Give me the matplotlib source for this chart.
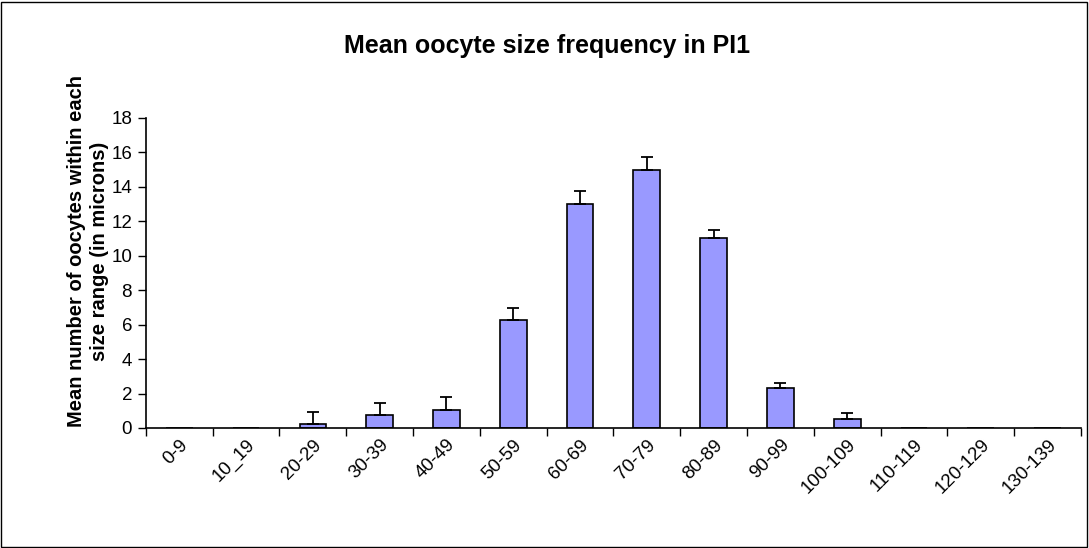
import matplotlib.pyplot as plt
import numpy as np
from matplotlib.patches import Rectangle

plt.rcParams['font.family'] = ['Liberation Sans', 'DejaVu Sans']

categories = ["0-9", "10_19", "20-29", "30-39", "40-49", "50-59", "60-69",
              "70-79", "80-89", "90-99", "100-109", "110-119", "120-129", "130-139"]
means = [0, 0, 0.25, 0.77, 1.06, 6.25, 13.0, 15.0, 11.05, 2.33, 0.54, 0, 0, 0]
errors = [0, 0, 0.7, 0.7, 0.75, 0.72, 0.74, 0.72, 0.42, 0.3, 0.32, 0, 0, 0]

fig = plt.figure(figsize=(10.89, 5.48), dpi=100)
ax = fig.add_axes([0.134, 0.219, 0.8586, 0.5657])

x = np.arange(len(categories))
ax.bar(x, means, width=0.4, color="#9999FF", edgecolor="black", linewidth=1.2, zorder=2)

# only the upper half of the error bar is drawn
has = [i for i in range(len(means)) if means[i] > 0]
ax.errorbar(x[has], np.array(means)[has],
            yerr=[np.zeros(len(has)), np.array(errors)[has]],
            fmt="none", ecolor="black", elinewidth=1.3, capsize=4.5, capthick=1.3, zorder=3)

ax.set_xlim(-0.5, len(categories) - 0.5)
ax.set_ylim(0, 18)
ax.set_yticks(np.arange(0, 19, 2))
ax.tick_params(axis="y", labelsize=13.5, length=6, width=1, direction="out", pad=4)

ax.set_xticks(x)
ax.set_xticklabels(categories, rotation=45, ha="right", rotation_mode="anchor", fontsize=13.5)
ax.tick_params(axis="x", which="major", length=0, pad=6)
ax.set_xticks(np.arange(-0.5, len(categories)), minor=True)
ax.tick_params(axis="x", which="minor", length=6, width=1, direction="out")

for side in ["top", "right"]:
    ax.spines[side].set_visible(False)
for side in ["left", "bottom"]:
    ax.spines[side].set_linewidth(1.2)

ax.set_ylabel("Mean number of oocytes within each\nsize range (in microns)",
              fontsize=14.5, fontweight="bold", linespacing=1.3)
ax.yaxis.set_label_coords(-0.039, 0.57)
fig.text(0.502, 0.916, "Mean oocyte size frequency in PI1", ha="center", va="center",
         fontsize=18, fontweight="bold")

fig.patches.append(Rectangle((0.001, 0.002), 0.997, 0.995, transform=fig.transFigure,
                             fill=False, edgecolor="black", linewidth=1))

fig.savefig("out.png", dpi=100)
